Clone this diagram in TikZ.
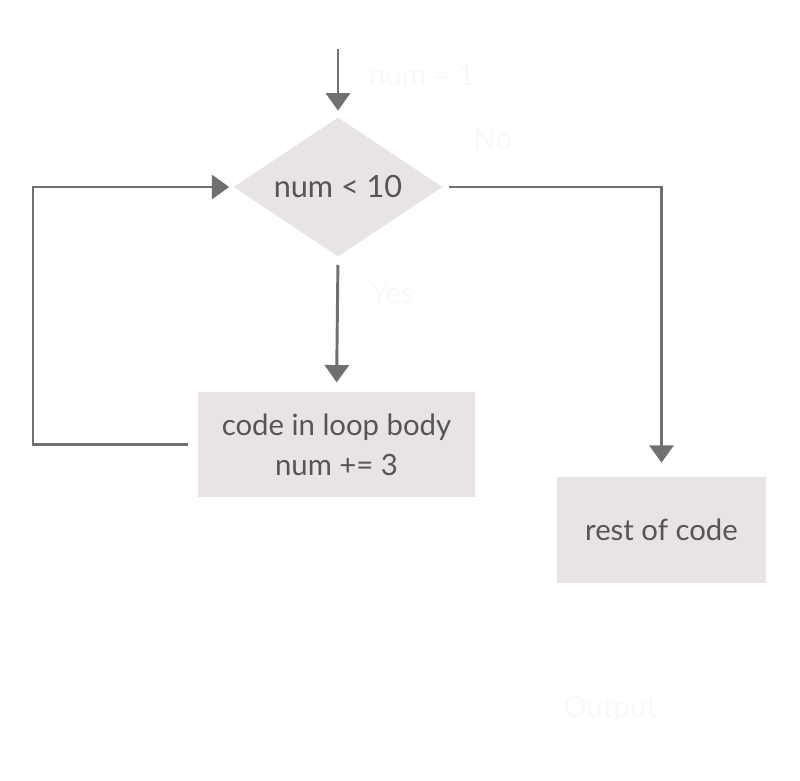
\documentclass[tikz,border=0pt]{standalone}
\usepackage{fontspec}
\setmainfont{Lato}
\usetikzlibrary{shapes.geometric,arrows.meta}
\definecolor{flowline}{HTML}{707070}
\definecolor{flowfill}{HTML}{E8E4E6}
\definecolor{flowtext}{HTML}{555555}
\definecolor{faint}{HTML}{F8F8F8}
\begin{document}
\begin{tikzpicture}[x=0.75pt, y=-0.75pt, >={Triangle[length=13pt, width=18pt]},
  every box/.style={fill=flowfill, text=flowtext, align=center, inner sep=0pt,
    font=\fontsize{22}{30}\selectfont},
  every flow/.style={draw=flowline, line width=2.2pt},
  every label/.style={text=faint, font=\fontsize{22}{26}\selectfont}]
\useasboundingbox (0,0) rectangle (800,781);
% nodes
\coordinate (start) at (338,49);
\coordinate (loop) at (33,0);
\node [every box, shape=diamond, aspect=1.5, minimum width=209*0.75pt,
  minimum height=139*0.75pt, font=\fontsize{23}{28}\selectfont] (cond) at (338,187) {num < 10};
\node [every box, minimum width=277*0.75pt, minimum height=105*0.75pt] (body) at (336.5,444.5)
  {code in loop body\\num += 3};
\node [every box, minimum width=209*0.75pt, minimum height=106*0.75pt] (rest) at (661.5,530)
  {rest of code};

% faint labels
\node [every label] (init) at (422,75) {num = 1};
\node [every label] (no) at (493,139) {No};
\node [every label] (yes) at (392,293) {Yes};
\node [every label] (output) at (610,709) {Output};

% connectors
\draw [every flow, ->, shorten >=5pt] (start) -- (cond.north);
\draw [every flow, ->, shorten <=6pt, shorten >=7pt] (cond.south) -- (body.north);
\draw [every flow, ->, shorten <=7.5pt, shorten >=3pt] (body.west) -- (body.west -| loop)
  |- (cond.west);
\draw [every flow, ->, shorten <=4.5pt, shorten >=10.5pt] (cond.east) -| (rest.north);
\end{tikzpicture}
\end{document}
